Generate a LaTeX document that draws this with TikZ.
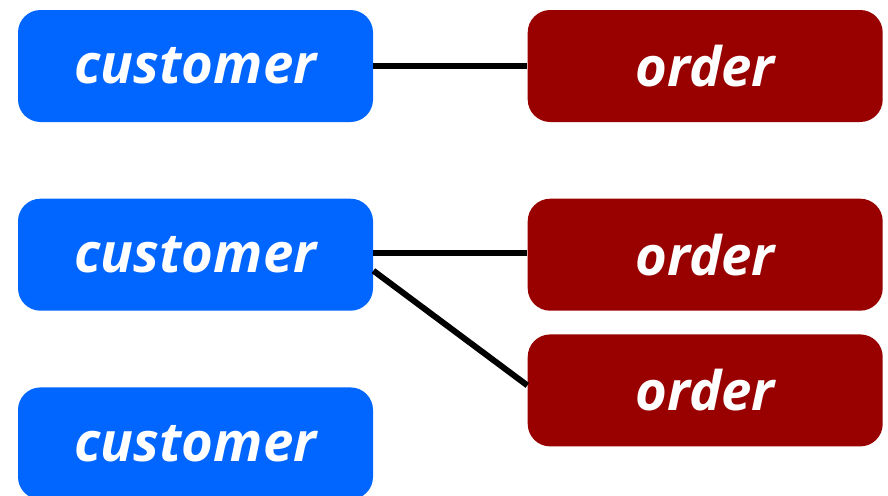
\documentclass[tikz,border=0pt]{standalone}
\usepackage{fontspec}
\setmainfont{Open Sans}
\usetikzlibrary{positioning}

\definecolor{custblue}{HTML}{0066FF}
\definecolor{orderred}{HTML}{990000}

\begin{document}
\begin{tikzpicture}[node distance={1.52cm and 3.08cm},
    entity/.style = {rounded corners=0.45cm, minimum width=7.1cm, minimum height=2.24cm,
      text=white, font=\fontsize{31}{34}\selectfont\bfseries\itshape},
    customer/.style = {entity, fill=custblue},
    order/.style = {entity, fill=orderred},
    link/.style = {line width=0.12cm}]
    \useasboundingbox (0,0) rectangle (17.76,-9.9);

    \node[customer] (C1) at (3.91,-1.32) {customer};
    \node[order] (O1) [right=of C1] {order};
    \node[customer] (C2) [below=of C1] {customer};
    \node[order] (O2) [right=of C2] {order};
    \node[order] (O3) [below=0.46cm of O2] {order};
    \node[customer] (C3) [below=of C2] {customer};

    \draw[link] (C1) -- (O1);
    \draw[link] ([yshift=0.04cm]C2.east) -- ([yshift=0.04cm]O2.west);
    \draw[link] ([yshift=-0.32cm]C2.east) -- ([yshift=0.1cm]O3.west);
\end{tikzpicture}
\end{document}
